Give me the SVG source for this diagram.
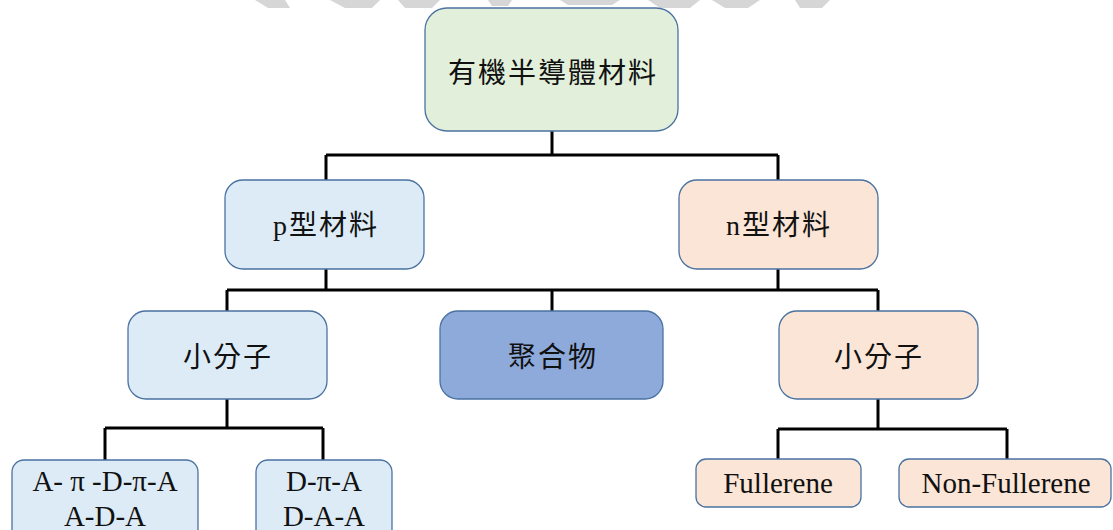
<svg xmlns="http://www.w3.org/2000/svg" width="1113" height="530" viewBox="0 0 1113 530">
<style>
.box{stroke:#4a72a0;stroke-width:1.3}
.green{fill:#e2efda}
.blue{fill:#ddebf7}
.peach{fill:#fbe5d6}
.dark{fill:#8eaadb}
.cjk{font-family:"Liberation Serif","Noto Sans CJK TC",serif;font-size:28px;fill:#111;text-anchor:middle;letter-spacing:2px}
.lat{font-family:"Liberation Serif",serif;font-size:29px;fill:#111;text-anchor:middle}
.conn{fill:none;stroke:#000;stroke-width:3}
.wm{fill:#d6d6d6}
</style>
<rect width="1113" height="530" fill="#fff"/>
<g id="watermark">
<polygon class="wm" points="255,0 285,0 290,8 268,8"/>
<polygon class="wm" points="330,0 380,0 372,8 345,8"/>
<polygon class="wm" points="398,0 440,0 432,8 405,8"/>
<polygon class="wm" points="488,0 512,0 508,6 492,6"/>
<polygon class="wm" points="560,0 620,0 612,5 568,5"/>
<polygon class="wm" points="648,0 700,0 690,8 660,8"/>
<polygon class="wm" points="712,0 760,0 748,8 725,8"/>
<polygon class="wm" points="795,0 830,0 822,8 800,8"/>
</g>
<g id="connectors">
<path class="conn" d="M552,131 V155 M326,155 H778 M326,155 V180 M778,155 V180"/>
<path class="conn" d="M326,269 V290 M778,269 V290 M227,290 H878 M227,290 V311 M552,290 V311 M878,290 V311"/>
<path class="conn" d="M227,399 V428 M105,428 H323 M105,428 V460 M323,428 V460"/>
<path class="conn" d="M878,399 V429 M778,429 H1007 M778,429 V459 M1007,429 V459"/>
</g>
<g id="root">
<rect class="box green" x="425" y="8" width="253" height="123" rx="22"/>
<text class="cjk" x="553" y="83">有機半導體材料</text>
</g>
<g id="p-type">
<rect class="box blue" x="225" y="180" width="199" height="89" rx="18"/>
<text class="cjk" x="326" y="235">p型材料</text>
</g>
<g id="n-type">
<rect class="box peach" x="679" y="180" width="199" height="89" rx="18"/>
<text class="cjk" x="779" y="235">n型材料</text>
</g>
<g id="p-small">
<rect class="box blue" x="128" y="311" width="199" height="88" rx="18"/>
<text class="cjk" x="228" y="367">小分子</text>
</g>
<g id="polymer">
<rect class="box dark" x="440" y="311" width="223" height="88" rx="18"/>
<text class="cjk" x="553" y="367">聚合物</text>
</g>
<g id="n-small">
<rect class="box peach" x="779" y="311" width="199" height="88" rx="18"/>
<text class="cjk" x="879" y="367">小分子</text>
</g>
<g id="apda">
<rect class="box blue" x="12" y="460" width="186" height="90" rx="12"/>
<text class="lat" x="105" y="491">A- π -D-π-A</text>
<text class="lat" x="105" y="526">A-D-A</text>
</g>
<g id="dpa">
<rect class="box blue" x="256" y="460" width="136" height="90" rx="12"/>
<text class="lat" x="324" y="491">D-π-A</text>
<text class="lat" x="324" y="526">D-A-A</text>
</g>
<g id="fullerene">
<rect class="box peach" x="696" y="459" width="165" height="48" rx="10"/>
<text class="lat" x="778" y="493">Fullerene</text>
</g>
<g id="non-fullerene">
<rect class="box peach" x="899" y="459" width="212" height="48" rx="10"/>
<text class="lat" x="1006" y="493">Non-Fullerene</text>
</g>
</svg>
